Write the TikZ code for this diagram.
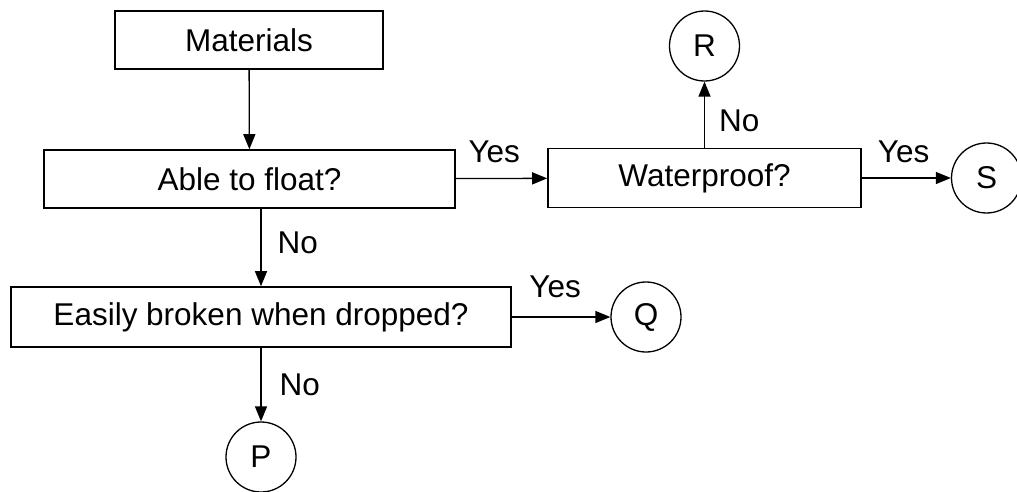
\documentclass[tikz,border=0pt]{standalone}
\usepackage{fontspec}
\setmainfont{Liberation Sans}
\usetikzlibrary{arrows.meta}

\begin{document}
\begin{tikzpicture}[x=1pt, y=-1pt, line width=1.3pt, font=\fontsize{31.5}{36}\selectfont,
  >={Triangle[length=15pt, width=12pt]},
  box/.style = {draw, rectangle, line width=1.6pt, inner sep=0pt, minimum height=58pt},
  leaf/.style = {draw, circle, inner sep=0pt, minimum size=70pt},
  lbl/.style = {inner sep=0pt}]
\useasboundingbox (0,0) rectangle (1017,492);
\node[box, minimum width=268pt] (mat) at (249,40) {Materials};
\node[box, minimum width=411pt] (flt) at (249.5,179) {Able to float?};
\node[box, minimum width=500pt, minimum height=60pt] (brk) at (261,317) {Easily broken when dropped?};
\node[box, minimum width=313pt, minimum height=59pt] (wpf) at (704.5,178) {Waterproof?};
\node[leaf] (R) [above of=wpf, node distance=132pt] {R};
\node[leaf] (S) [right of=wpf, node distance=282pt] {S};
\node[leaf] (Q) [right of=brk, node distance=385pt] {Q};
\node[leaf] (P) [below of=brk, node distance=140pt] {P};

\draw[->] (mat) -- (flt);
\draw[->] (flt) -- node[lbl, pos=0.42, above=15pt] {Yes} (wpf);
\draw[->] (flt.south -| brk.north) -- node[lbl, pos=0.44, right=16pt] {No} (brk);
\draw[->] (wpf) -- node[lbl, pos=0.4, right=14pt] {No} (R);
\draw[->] (wpf) -- node[lbl, pos=0.47, above=15pt] {Yes} (S);
\draw[->] (brk) -- node[lbl, pos=0.44, above=19pt] {Yes} (Q);
\draw[->] (brk) -- node[lbl, right=18pt] {No} (P);
\end{tikzpicture}
\end{document}
